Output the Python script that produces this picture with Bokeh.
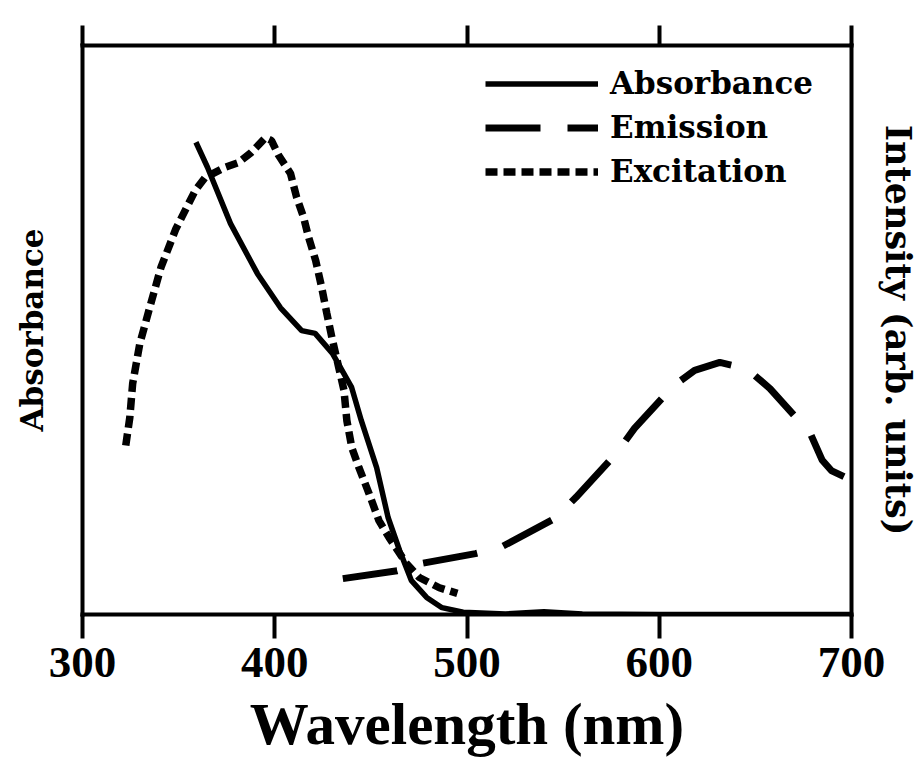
from bokeh.plotting import figure
from bokeh.models import LinearAxis, Range1d, FixedTicker, Legend, LegendItem
from bokeh.embed import file_html
from bokeh.resources import INLINE

# ---- data ----
x_ticks = [300, 400, 500, 600, 700]
x_tick_labels = ["300", "400", "500", "600", "700"]

# Absorbance (left axis, arbitrary units 0-100)
abs_wl = [359, 365, 377, 391, 403, 414, 421, 430, 440, 445, 453, 459, 465, 471, 479, 487, 498, 520, 540, 560, 600, 700]
abs_val = [83.0, 78.6, 68.7, 59.9, 53.9, 49.9, 49.4, 45.9, 39.9, 34.1, 25.8, 17.0, 11.2, 6.0, 3.0, 1.2, 0.4, 0.1, 0.5, 0.1, 0.0, 0.0]

# Emission (right axis, arb. units 0-100)
em_wl = [435.4, 463.7, 476.7, 504.4, 517.5, 545.8, 556.7, 577.6, 587.1, 607.5, 618.4, 631.5, 645.6, 657.6, 678.6, 684.8, 689.5, 700]
em_val = [6.3, 7.7, 9.0, 10.7, 11.8, 16.9, 20.6, 28.3, 32.7, 40.2, 42.9, 44.3, 43.2, 39.7, 31.8, 27.1, 25.3, 23.6]

# Excitation (right axis, arb. units 0-100)
exc_wl = [322.5, 324.6, 326.1, 329.8, 335.0, 340.8, 348.6, 358.6, 363.8, 374.2, 381.0, 387.8, 395.2, 398.3,
          402.0, 408.2, 411.4, 415.0, 417.6, 421.3, 424.4, 427.1, 429.7, 433.3, 436.0, 437.5, 440.1, 443.8,
          449.0, 454.2, 459.5, 468.4, 475.2, 485.6, 495.0]
exc_val = [29.7, 34.6, 40.6, 47.6, 54.0, 61.0, 67.8, 74.5, 76.8, 78.6, 79.4, 81.2, 83.8, 83.3,
           80.7, 77.5, 73.3, 69.8, 66.3, 62.2, 57.5, 52.9, 48.7, 43.4, 39.4, 34.1, 29.3, 25.8,
           21.3, 16.5, 13.5, 9.0, 6.5, 4.7, 3.7]

series_names = ["Absorbance", "Emission", "Excitation"]

# ---- figure ----
p = figure(frame_width=769, frame_height=569,
           x_range=Range1d(300, 700), y_range=Range1d(0, 100),
           x_axis_location=None, y_axis_location=None,
           toolbar_location=None, output_backend="svg",
           min_border_left=82, min_border_top=45, min_border_right=10, min_border_bottom=5)
p.extra_y_ranges = {"intensity": Range1d(0, 100)}
p.grid.visible = False
p.outline_line_color = None
p.background_fill_color = "white"
p.border_fill_color = "white"


def base_style(ax):
    ax.axis_line_width = 4
    ax.axis_line_color = "black"
    ax.axis_line_cap = "square"
    ax.major_tick_line_width = 4
    ax.major_tick_line_color = "black"
    ax.major_tick_in = 0
    ax.minor_tick_in = 0
    ax.minor_tick_out = 0


bottom = LinearAxis(ticker=FixedTicker(ticks=x_ticks, minor_ticks=[]),
                    major_label_overrides=dict(zip(x_ticks, x_tick_labels)))
base_style(bottom)
bottom.major_tick_out = 24
bottom.major_label_standoff = 9
bottom.major_label_text_font = "Liberation Serif"
bottom.major_label_text_font_style = "bold"
bottom.major_label_text_font_size = "45px"
bottom.major_label_text_color = "black"
bottom.axis_label = "Wavelength (nm)"
bottom.axis_label_text_font = "Liberation Serif"
bottom.axis_label_text_font_style = "bold"
bottom.axis_label_text_font_size = "59px"
bottom.axis_label_text_color = "black"
bottom.axis_label_standoff = 11
p.add_layout(bottom, "below")

top = LinearAxis(ticker=FixedTicker(ticks=x_ticks, minor_ticks=[]))
base_style(top)
top.major_tick_out = 20
top.major_label_text_font_size = "1px"
top.major_label_text_alpha = 0
top.major_label_standoff = 0
p.add_layout(top, "above")

left = LinearAxis(ticker=FixedTicker(ticks=[], minor_ticks=[]))
base_style(left)
left.major_tick_out = 0
left.axis_label = "Absorbance"
left.axis_label_text_font = "DejaVu Serif"
left.axis_label_text_font_style = "bold"
left.axis_label_text_font_size = "31px"
left.axis_label_text_color = "black"
left.axis_label_standoff = 33
p.add_layout(left, "left")

right = LinearAxis(y_range_name="intensity", ticker=FixedTicker(ticks=[], minor_ticks=[]))
base_style(right)
right.major_tick_out = 0
right.axis_label = "Intensity (arb. units)"
right.axis_label_text_font = "DejaVu Serif"
right.axis_label_text_font_style = "bold"
right.axis_label_text_font_size = "35px"
right.axis_label_text_color = "black"
right.axis_label_standoff = 26
p.add_layout(right, "right")

# ---- curves ----
r_abs = p.line(abs_wl, abs_val, line_width=5.5, line_color="black")
r_em = p.line(em_wl, em_val, line_width=7, line_color="black", line_dash="55 27",
              y_range_name="intensity")
r_exc = p.line(exc_wl, exc_val, line_width=7.5, line_color="black", line_dash="12 6",
               y_range_name="intensity")

legend = Legend(items=[LegendItem(label=series_names[0], renderers=[r_abs]),
                       LegendItem(label=series_names[1], renderers=[r_em]),
                       LegendItem(label=series_names[2], renderers=[r_exc])],
                location=(403, 425))
legend.glyph_width = 113
legend.glyph_height = 35
legend.label_height = 35
legend.spacing = 8
legend.padding = 0
legend.margin = 0
legend.label_standoff = 12
legend.border_line_alpha = 0
legend.background_fill_alpha = 0
legend.label_text_font = "DejaVu Serif"
legend.label_text_font_style = "bold"
legend.label_text_font_size = "31px"
legend.label_text_color = "black"
p.add_layout(legend)

open("out.html", "w").write(file_html(p, INLINE))
